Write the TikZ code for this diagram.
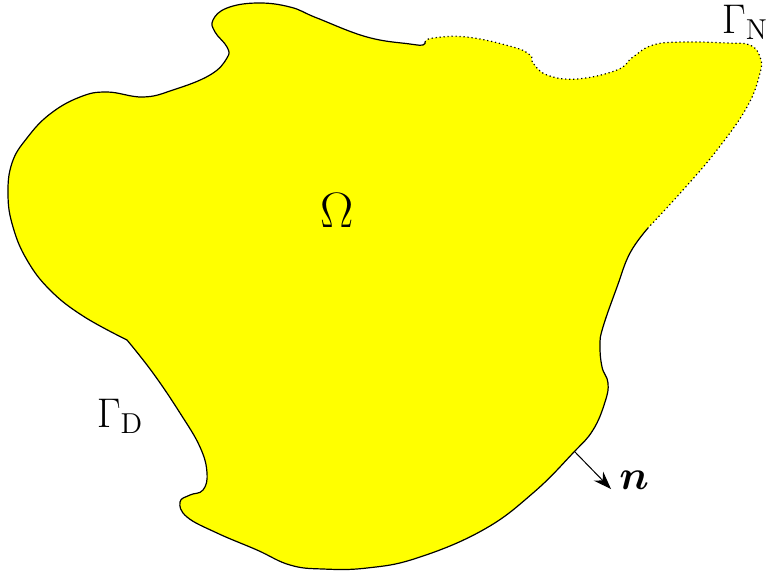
\documentclass[tikz,border=0pt]{standalone}
\usepackage{amsmath}
\usepackage{bm}
\usetikzlibrary{arrows.meta}
\definecolor{pureyellow}{RGB}{255,255,0}
\tikzset{
  region/.style={fill=pureyellow},
  bdry/.style={line width=0.6pt, black},
  neumann/.style={line width=0.6pt, black, dash pattern=on 0.6pt off 1.4pt},
  lbl/.style={inner sep=0pt, font=\fontsize{22.5}{27}\selectfont},
  normalarrow/.style={line width=0.5pt, -{Stealth[length=9pt,width=6.5pt,inset=3pt]}}
}
\begin{document}
\begin{tikzpicture}[x=0.5pt,y=-0.5pt]
\useasboundingbox (0,0) rectangle (769,574);
\def\partN{(425,42) (433,38) (467,37) (513,47) (530,55) (533,63) (547,75) (577,79) (617,70) (633,57) (653,45) (683,42) (727,43) (750,45) (760,57) (760,73) (747,107) (717,150) (683,190) (648,228)}
\def\partR{(648,228) (630,253) (617,287) (603,327) (600,345) (602,367) (608,383) (605,402) (593,430) (573,453) (533,493) (483,530) (417,558) (367,568) (323,569) (290,565) (257,550) (217,533) (187,517) (180,502) (190,495) (203,490) (207,473) (200,447) (180,413) (153,373) (127,340)}
\def\partL{(127,340) (83,316) (50,290) (27,260) (13,227) (8,195) (12,163) (27,138) (50,114) (80,97) (107,92) (143,97) (173,90) (210,75) (227,58) (227,47) (215,32) (213,20) (227,8) (257,3) (290,7) (317,18) (367,37) (410,44) (423,45) (425,42)}
% fill
\fill[region] plot[smooth,tension=0.7] coordinates {\partN}
 -- plot[smooth,tension=0.7] coordinates {\partR}
 -- plot[smooth,tension=0.7] coordinates {\partL}
 -- cycle;
% Neumann boundary (dotted)
\draw[neumann] plot[smooth,tension=0.7] coordinates {\partN};
% Dirichlet boundary (solid)
\draw[bdry] plot[smooth,tension=0.7] coordinates {\partR};
\draw[bdry] plot[smooth,tension=0.7] coordinates {\partL};
% labels
\node[lbl, font=\fontsize{29}{35}\selectfont] (omega) at (337,210) {$\Omega$};
\node[lbl] (gn) at (745,22) {$\Gamma_{\mathrm{N}}$};
\node[lbl] (gd) at (120,416) {$\Gamma_{\mathrm{D}}$};
\coordinate (nfoot) at (575,452);
\coordinate (ntip) at (611,489);
\node[lbl, anchor=west] (nlbl) at (619,480) {$\bm{n}$};
\draw[normalarrow] (nfoot) -- (ntip);
\end{tikzpicture}
\end{document}
